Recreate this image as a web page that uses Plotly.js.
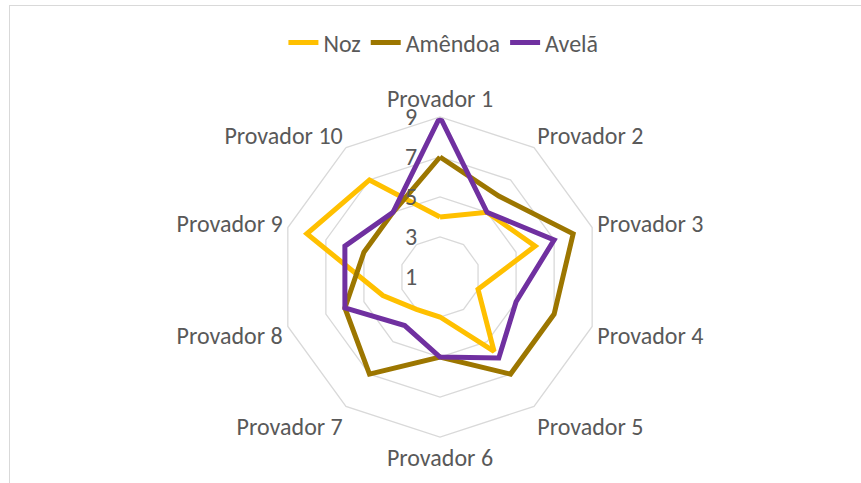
<!DOCTYPE html>
<html>
<head>
<meta charset="utf-8">
<script src="https://cdn.plot.ly/plotly-3.0.1.min.js"></script>
<style>
  html, body { margin: 0; padding: 0; background: #ffffff; }
  #chart { width: 861px; height: 483px; }
  #frame { position: absolute; left: 9px; top: 5px; width: 900px; height: 600px;
           border-top: 1px solid #d9d9d9; border-left: 1px solid #d9d9d9; pointer-events: none; }
</style>
</head>
<body>
<div id="chart"></div>
<div id="frame"></div>
<script>
const categories = ["Provador 1", "Provador 2", "Provador 3", "Provador 4", "Provador 5",
                    "Provador 6", "Provador 7", "Provador 8", "Provador 9", "Provador 10"];
const noz     = [4, 5, 6, 3, 5.6, 3, 3, 4, 8, 7];
const amendoa = [7, 6, 8, 7, 7, 5, 7, 6, 5, 5];
const avela   = [9, 5, 7, 5, 6, 5, 4, 6, 6, 5];
const radialTicks = [1, 3, 5, 7, 9];

function closed(a) { return a.concat([a[0]]); }
const theta = closed(categories);

const font = "Calibri, Carlito, 'Open Sans', sans-serif";

const traces = [
  { name: "Noz", r: closed(noz), color: "#FFC000" },
  { name: "Amêndoa", r: closed(amendoa), color: "#9C7600" },
  { name: "Avelã", r: closed(avela), color: "#7030A0" }
].map(s => ({
  type: "scatterpolar",
  mode: "lines",
  name: s.name,
  r: s.r,
  theta: theta,
  line: { color: s.color, width: 5 },
  hoverinfo: "skip"
}));

const layout = {
  width: 861,
  height: 483,
  paper_bgcolor: "#ffffff",
  plot_bgcolor: "#ffffff",
  margin: { l: 0, r: 0, t: 117, b: 46 },
  font: { family: font, color: "#595959", size: 24 },
  showlegend: true,
  legend: {
    orientation: "h",
    x: 0.515, xanchor: "center",
    y: 0.911, yanchor: "middle",
    xref: "container", yref: "container",
    font: { family: font, size: 24, color: "#595959" },
    tracegroupgap: 0
  },
  polar: {
    domain: { x: [280 / 861, 600 / 861], y: [0, 1] },
    bgcolor: "#ffffff",
    gridshape: "linear",
    radialaxis: {
      range: [1, 9],
      tickvals: radialTicks,
      ticktext: radialTicks.map(String),
      angle: 90,
      tickangle: 90,
      side: "counterclockwise",
      showline: false,
      ticks: "outside",
      ticklen: 14,
      tickcolor: "rgba(0,0,0,0)",
      gridcolor: "#d9d9d9",
      gridwidth: 1.3,
      tickfont: { family: font, size: 24, color: "#595959" }
    },
    angularaxis: {
      direction: "clockwise",
      rotation: 90,
      showgrid: false,
      showline: true,
      linecolor: "#d9d9d9",
      linewidth: 1.3,
      ticks: "",
      tickfont: { family: font, size: 24, color: "#595959" }
    }
  }
};

Plotly.newPlot("chart", traces, layout, { staticPlot: true, displayModeBar: false });
</script>
</body>
</html>
